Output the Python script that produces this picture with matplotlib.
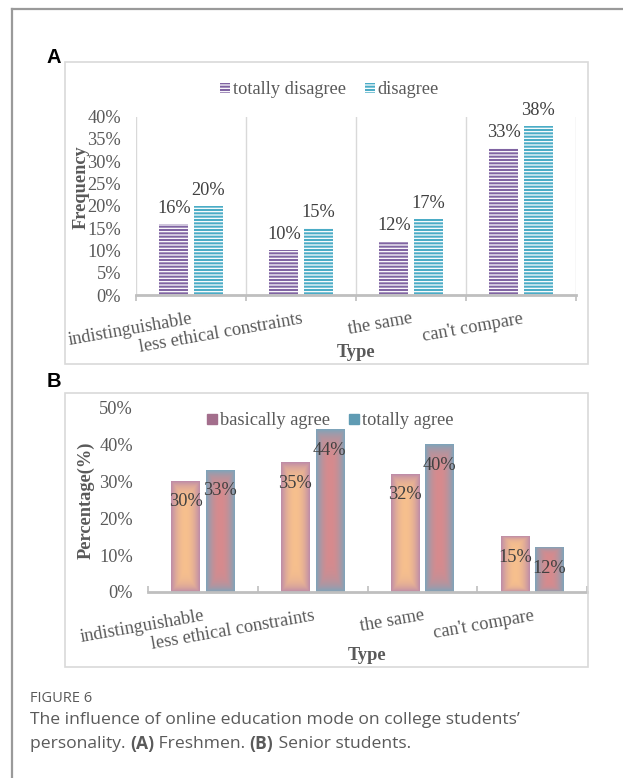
import numpy as np
import matplotlib.pyplot as plt
from matplotlib.patches import Patch, Rectangle
from matplotlib.lines import Line2D
from matplotlib.colors import to_rgb

plt.rcParams['font.family'] = ['Liberation Serif', 'DejaVu Serif']
plt.rcParams['hatch.color'] = 'white'
plt.rcParams['hatch.linewidth'] = 0.9

categories = ['indistinguishable', 'less ethical constraints', 'the same', "can't compare"]
# (A) freshmen, percent
fresh_totally_disagree = [16, 10, 12, 33]
fresh_disagree = [20, 15, 17, 38]
# (B) senior students, percent
senior_basically_agree = [30, 35, 32, 15]
senior_totally_agree = [33, 44, 40, 12]

W, H = 623, 778
fig = plt.figure(figsize=(W / 100, H / 100), dpi=100)


def fx(px):
    return px / W


def fy(py):
    return 1 - py / H


GREY = '#595959'
DARK = '#404040'
FS = 13.2

# page frame + chart boxes
fig.add_artist(Line2D([fx(12), 1], [fy(9), fy(9)], transform=fig.transFigure, color='#9a9a9a', lw=1.6))
fig.add_artist(Line2D([fx(12), fx(12)], [fy(9), 0], transform=fig.transFigure, color='#9a9a9a', lw=1.6))
for top, bot in [(62, 364), (393, 667)]:
    fig.add_artist(Rectangle((fx(65), fy(bot)), fx(588) - fx(65), (bot - top) / H,
                             transform=fig.transFigure, fill=False, ec='#D9D9D9', lw=1.2))

axA = fig.add_axes([fx(136), fy(295), fx(576) - fx(136), (295 - 116.7) / H])
axB = fig.add_axes([fx(148), fy(592), fx(587) - fx(148), (592 - 407.7) / H])

x = np.arange(len(categories))
w = 0.26
off = 0.157


def style_axis(ax, ymax, step, tickdir):
    ax.set_xlim(-0.5, len(categories) - 0.5)
    ax.set_ylim(0, ymax)
    ax.set_yticks(np.arange(0, ymax + 0.1, step))
    ax.yaxis.set_major_formatter(lambda v, p: f'{v:.0f}%')
    ax.tick_params(axis='y', length=0, pad=10.8, labelsize=FS, labelcolor=GREY)
    ax.set_xticks(x, categories, rotation=10, ha='right', rotation_mode='anchor')
    ax.tick_params(axis='x', which='major', length=0, pad=11, labelsize=FS, labelcolor=GREY)
    ax.set_xticks(np.arange(-0.5, len(categories)), minor=True)
    ax.tick_params(axis='x', which='minor', direction=tickdir, length=4, width=1.2, color='#BFBFBF')
    for s in ['top', 'right', 'left']:
        ax.spines[s].set_visible(False)
    ax.spines['bottom'].set_color('#BFBFBF')
    ax.spines['bottom'].set_linewidth(2)
    ax.spines['bottom'].set_zorder(5)
    ax.set_xlabel('Type', fontsize=FS, weight='bold', color=GREY, va='center')


def legend_at(ax, handles, labels, cx, cy):
    ax.legend(handles, labels, loc='center', bbox_to_anchor=(fx(cx), fy(cy)),
              bbox_transform=fig.transFigure, ncol=2, frameon=False, fontsize=FS,
              labelcolor=GREY, handlelength=0.54, handleheight=0.54,
              handletextpad=0.16, columnspacing=1.03)


# ---- A: freshmen
barsA1 = axA.bar(x - off, fresh_totally_disagree, w, color='#8064A2', hatch='-----', zorder=3)
barsA2 = axA.bar(x + off, fresh_disagree, w, color='#4BACC6', hatch='-----', zorder=3)
style_axis(axA, 40, 5, 'out')
axA.grid(axis='x', which='minor', color='#D9D9D9', lw=1, zorder=0)
axA.set_ylabel('Frequency', fontsize=FS, weight='bold', color=GREY, va='center')
axA.yaxis.set_label_coords(-0.125, 0.606)
axA.xaxis.set_label_coords(0.5, -0.32)
for bars, vals in [(barsA1, fresh_totally_disagree), (barsA2, fresh_disagree)]:
    for p, v in zip(bars, vals):
        axA.annotate(f'{v}%', (p.get_x() + p.get_width() / 2, v), xytext=(0, 8),
                     textcoords='offset points', ha='center', va='baseline',
                     fontsize=FS, color=DARK)
legend_at(axA, [barsA1, barsA2], ['totally disagree', 'disagree'], 329.5, 90)


# ---- B: senior students, gradient bars
def gradient_fill(ax, patch, center, edge):
    u = np.linspace(0, 1, 60)
    v = np.linspace(0, 1, 160)
    U, V = np.meshgrid(u, v)
    t = np.maximum(np.abs(2 * U - 1), np.abs(2 * V - 1) ** 4) ** 2
    c0 = np.array(to_rgb(center))
    c1 = np.array(to_rgb(edge))
    img = c0 + (c1 - c0) * t[..., None]
    x0 = patch.get_x()
    ax.imshow(img, extent=(x0, x0 + patch.get_width(), 0, patch.get_height()), origin='lower',
              aspect='auto', interpolation='bilinear', zorder=3)


barsB1 = axB.bar(x - off, senior_basically_agree, w, color='none')
barsB2 = axB.bar(x + off, senior_totally_agree, w, color='none')
for p in barsB1:
    gradient_fill(axB, p, '#F7C08D', '#BE8CA8')
for p in barsB2:
    gradient_fill(axB, p, '#D78A8D', '#7FA4BA')
style_axis(axB, 50, 10, 'in')
axB.set_ylabel('Percentage(%)', fontsize=FS, weight='bold', color=GREY, va='center')
axB.yaxis.set_label_coords(-0.142, 0.5)
axB.xaxis.set_label_coords(0.5, -0.342)
for bars, vals in [(barsB1, senior_basically_agree), (barsB2, senior_totally_agree)]:
    for p, v in zip(bars, vals):
        axB.annotate(f'{v}%', (p.get_x() + p.get_width() / 2, v), xytext=(0, -18),
                     textcoords='offset points', ha='center', va='baseline',
                     fontsize=FS, color=DARK, zorder=6)
legend_at(axB, [Patch(color='#A36E8C'), Patch(color='#5F9BB3')],
          ['basically agree', 'totally agree'], 330, 421)

# panel letters
fig.text(fx(47), fy(63), 'A', family='Liberation Sans', weight='bold', fontsize=14.5, va='baseline')
fig.text(fx(47), fy(387), 'B', family='Liberation Sans', weight='bold', fontsize=14.5, va='baseline')

# caption
CAP = '#5a5a5a'
CX = fx(30)
fig.text(CX, fy(699), 'FIGURE 6', family='Open Sans', fontsize=10.5, color=CAP, va='center')
fig.text(CX, fy(720), 'The influence of online education mode on college students\u2019',
         family='Open Sans', fontsize=12.6, color=CAP, va='center')
renderer = fig.canvas.get_renderer()
xpos = CX
for piece, wt in [('personality. ', 'normal'), ('(A)', 'bold'), (' Freshmen. ', 'normal'),
                  ('(B)', 'bold'), (' Senior students.', 'normal')]:
    t = fig.text(xpos, fy(744), piece, family='Open Sans', fontsize=12.6, color=CAP,
                 va='center', weight=wt)
    bb = t.get_window_extent(renderer)
    xpos = bb.x1 / fig.bbox.width

fig.savefig('out.png', dpi=100)
